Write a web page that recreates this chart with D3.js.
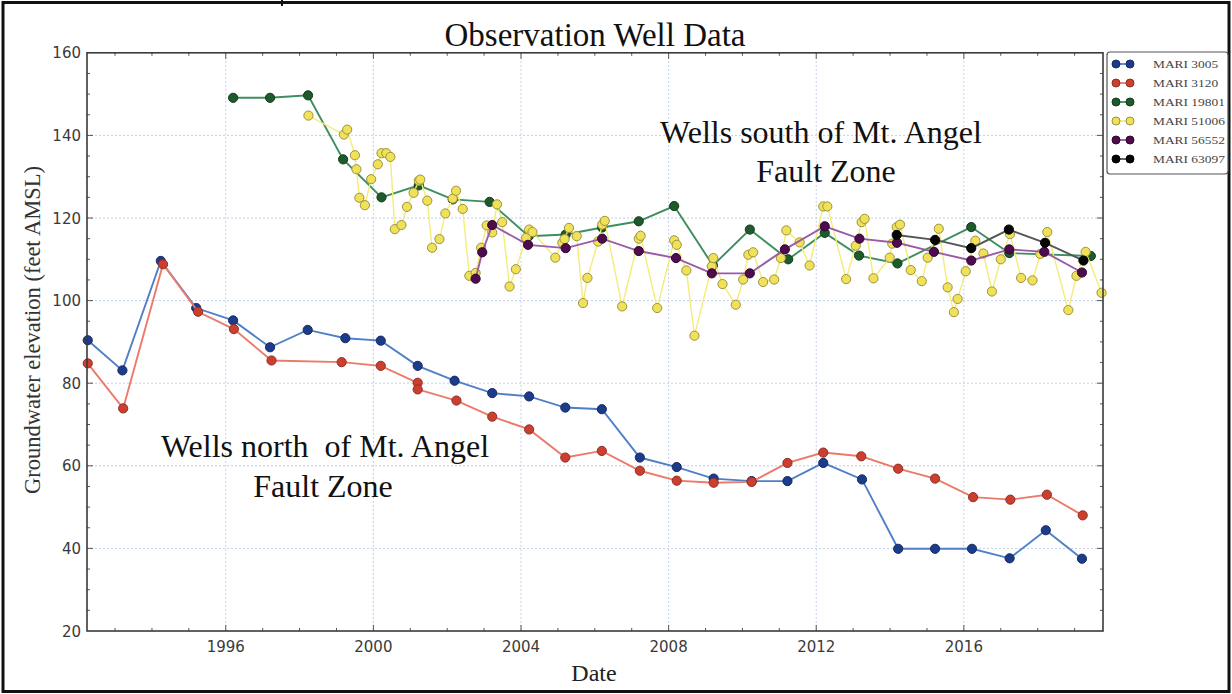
<!DOCTYPE html>
<html>
<head>
<meta charset="utf-8">
<script src="https://cdn.jsdelivr.net/npm/d3@7"></script>
<style>
  body { margin: 0; background: #fff; }
  svg { display: block; }
</style>
</head>
<body>
<div id="chart"></div>
<script>
// well records: [decimal year, groundwater elevation in feet AMSL]
const mari3005 = [
  [1992.26, 90.4], [1993.2, 83.1], [1994.24, 109.6], [1995.2, 98.2], [1996.2, 95.2],
  [1997.2, 88.7], [1998.22, 92.9], [1999.24, 90.9], [2000.2, 90.3], [2001.2, 84.2],
  [2002.2, 80.6], [2003.22, 77.6], [2004.22, 76.8], [2005.2, 74.1], [2006.19, 73.7],
  [2007.22, 62.0], [2008.22, 59.7], [2009.22, 56.9], [2010.25, 56.3], [2011.22, 56.3],
  [2012.19, 60.7], [2013.24, 56.7], [2014.22, 39.9], [2015.22, 39.9], [2016.22, 39.9],
  [2017.24, 37.6], [2018.22, 44.4], [2019.2, 37.5]
];
const mari3120 = [
  [1992.26, 84.8], [1993.22, 73.9], [1994.3, 108.8], [1995.25, 97.3], [1996.22, 93.1],
  [1997.24, 85.5], [1999.14, 85.1], [2000.2, 84.2], [2001.2, 80.1], [2001.2, 78.5],
  [2002.25, 75.8], [2003.22, 71.9], [2004.22, 68.8], [2005.2, 62.0], [2006.19, 63.6],
  [2007.22, 58.8], [2008.22, 56.4], [2009.22, 55.9], [2010.25, 56.1], [2011.22, 60.7],
  [2012.19, 63.2], [2013.22, 62.3], [2014.22, 59.3], [2015.22, 56.9], [2016.25, 52.4],
  [2017.26, 51.8], [2018.25, 53.0], [2019.22, 48.0]
];
const mari19801 = [
  [1996.2, 149.1], [1997.2, 149.1], [1998.23, 149.7], [1999.18, 134.2], [2000.22, 125.0],
  [2001.23, 127.9], [2002.15, 124.5], [2003.15, 123.9], [2004.21, 115.6], [2005.21, 116.0],
  [2006.2, 117.7], [2007.19, 119.2], [2008.15, 122.9], [2009.2, 108.5], [2010.2, 117.2],
  [2011.24, 110.0], [2012.23, 116.4], [2013.16, 110.9], [2014.2, 109.0], [2016.2, 117.8],
  [2017.23, 111.5], [2019.44, 110.8]
];
const mari51006 = [
  [1998.24, 144.8], [1999.2, 140.2], [1999.29, 141.4], [1999.5, 135.2], [1999.54, 131.8],
  [1999.62, 124.9], [1999.77, 123.1], [1999.94, 129.4], [2000.12, 133.0], [2000.22, 135.7],
  [2000.35, 135.7], [2000.46, 134.8], [2000.58, 117.3], [2000.76, 118.3], [2000.91, 122.7],
  [2001.09, 126.1], [2001.23, 129.0], [2001.27, 129.3], [2001.46, 124.2], [2001.59, 112.8],
  [2001.79, 114.9], [2001.95, 121.1], [2002.15, 124.7], [2002.24, 126.6], [2002.42, 122.2],
  [2002.6, 106.0], [2002.77, 106.7], [2002.92, 112.8], [2003.07, 118.2], [2003.22, 116.5],
  [2003.35, 123.3], [2003.49, 119.0], [2003.69, 103.4], [2003.86, 107.6], [2004.14, 115.2],
  [2004.22, 117.2], [2004.31, 116.6], [2004.93, 110.4], [2005.12, 114.0], [2005.18, 114.9],
  [2005.3, 117.6], [2005.51, 115.6], [2005.68, 99.4], [2005.8, 105.5], [2006.09, 114.3],
  [2006.2, 118.4], [2006.27, 119.3], [2006.74, 98.6], [2007.19, 115.0], [2007.24, 115.7],
  [2007.69, 98.2], [2008.15, 114.6], [2008.22, 113.5], [2008.48, 107.3], [2008.7, 91.5],
  [2009.17, 108.3], [2009.21, 110.3], [2009.46, 104.0], [2009.82, 99.0], [2010.02, 105.1],
  [2010.16, 111.1], [2010.29, 111.7], [2010.56, 104.5], [2010.86, 105.1], [2011.04, 110.3],
  [2011.19, 117.0], [2011.55, 114.1], [2011.82, 108.5], [2012.19, 122.8], [2012.3, 122.8],
  [2012.81, 105.2], [2013.07, 113.3], [2013.23, 119.0], [2013.31, 119.8], [2013.55, 105.4],
  [2013.99, 110.4], [2014.06, 113.8], [2014.18, 117.8], [2014.27, 118.4], [2014.56, 107.4],
  [2014.86, 104.7], [2015.02, 110.4], [2015.32, 117.4], [2015.56, 103.2], [2015.73, 97.2],
  [2015.83, 100.4], [2016.05, 107.1], [2016.31, 114.5], [2016.53, 111.4], [2016.76, 102.2],
  [2017.0, 110.0], [2017.25, 116.1], [2017.55, 105.5], [2017.86, 104.9], [2018.07, 111.3],
  [2018.26, 116.6], [2018.83, 97.7], [2019.05, 106.0], [2019.3, 111.8], [2019.73, 101.9]
];
const mari56552 = [
  [2002.77, 105.3], [2002.95, 111.7], [2003.22, 118.3], [2004.19, 113.5], [2005.21, 112.7],
  [2006.2, 115.0], [2007.19, 112.0], [2008.2, 110.3], [2009.17, 106.6], [2010.2, 106.6],
  [2011.15, 112.4], [2012.23, 118.0], [2013.17, 115.0], [2014.19, 114.0], [2015.19, 111.8],
  [2016.2, 109.7], [2017.23, 112.4], [2018.18, 111.8], [2019.2, 106.8]
];
const mari63097 = [
  [2014.18, 115.9], [2015.22, 114.7], [2016.2, 112.7], [2017.22, 117.2], [2018.2, 114.0],
  [2019.24, 109.7]
];

const seriesNames = ['MARI 3005', 'MARI 3120', 'MARI 19801', 'MARI 51006', 'MARI 56552', 'MARI 63097'];
const seriesData = [mari3005, mari3120, mari19801, mari51006, mari56552, mari63097];
const lineColors = ['#4f7fc8', '#ec7a6a', '#3e8e5e', '#f5ec78', '#9a5aa6', '#555555'];
const dotColors = ['#1b3b8b', '#cc3e2e', '#1d5a2c', '#f0e158', '#4e0c4e', '#050505'];
const dotEdges = ['#1a2a60', '#8e3026', '#163a1c', '#9a9440', '#2e062e', '#000000'];

const xTicks = [1996, 2000, 2004, 2008, 2012, 2016];
const yTicks = [20, 40, 60, 80, 100, 120, 140, 160];

const W = 1232, H = 694;
const plotL = 87, plotR = 1103, plotT = 52.8, plotB = 631;

const svg = d3.select('#chart').append('svg')
  .attr('width', W)
  .attr('height', H);

const x = d3.scaleLinear().domain([1992.24, 2019.77]).range([plotL, plotR]);
const y = d3.scaleLinear().domain([20, 160]).range([plotB, plotT]);

// outer frame
svg.append('rect')
  .attr('x', 3).attr('y', 2.5).attr('width', W - 6).attr('height', H - 5)
  .attr('fill', 'none').attr('stroke', '#111').attr('stroke-width', 3);
svg.append('line')
  .attr('x1', 282).attr('x2', 282).attr('y1', 0).attr('y2', 6)
  .attr('stroke', '#111').attr('stroke-width', 2);

// grid
const grid = svg.append('g');
grid.selectAll('.gx').data(xTicks).join('line')
  .attr('x1', d => x(d)).attr('x2', d => x(d))
  .attr('y1', plotT).attr('y2', plotB)
  .attr('stroke', '#bfd0ea').attr('stroke-width', 1).attr('stroke-dasharray', '2,2');
grid.selectAll('.gy').data(yTicks.slice(1, -1)).join('line')
  .attr('x1', plotL).attr('x2', plotR)
  .attr('y1', d => y(d)).attr('y2', d => y(d))
  .attr('stroke', '#bfd0ea').attr('stroke-width', 1).attr('stroke-dasharray', '2,2');

// inward ticks on all four sides
const ticks = svg.append('g').attr('stroke', '#555').attr('stroke-width', 1);
d3.range(1993, 2020).forEach(function(yr) {
  const len = xTicks.includes(yr) ? 6 : 3;
  ticks.append('line').attr('x1', x(yr)).attr('x2', x(yr)).attr('y1', plotB).attr('y2', plotB - len);
  ticks.append('line').attr('x1', x(yr)).attr('x2', x(yr)).attr('y1', plotT).attr('y2', plotT + len);
});
d3.range(25, 160, 5).forEach(function(v) {
  const len = v % 20 === 0 ? 6 : 3;
  ticks.append('line').attr('x1', plotL).attr('x2', plotL + len).attr('y1', y(v)).attr('y2', y(v));
  ticks.append('line').attr('x1', plotR).attr('x2', plotR - len).attr('y1', y(v)).attr('y2', y(v));
});

// series
const line = d3.line().x(d => x(d[0])).y(d => y(d[1]));
seriesData.forEach(function(data, i) {
  const g = svg.append('g');
  g.append('path')
    .attr('d', line(data))
    .attr('fill', 'none')
    .attr('stroke', lineColors[i])
    .attr('stroke-width', i === 3 ? 1.4 : 1.9);
  g.selectAll('circle').data(data).join('circle')
    .attr('cx', d => x(d[0]))
    .attr('cy', d => y(d[1]))
    .attr('r', 4.6)
    .attr('fill', dotColors[i])
    .attr('stroke', dotEdges[i])
    .attr('stroke-width', 1);
});

// spines
svg.append('rect')
  .attr('x', plotL).attr('y', plotT).attr('width', plotR - plotL).attr('height', plotB - plotT)
  .attr('fill', 'none').attr('stroke', '#3a3a3a').attr('stroke-width', 1.6);

// tick labels
svg.append('g').selectAll('text').data(xTicks).join('text')
  .attr('x', d => x(d)).attr('y', 652)
  .attr('text-anchor', 'middle')
  .attr('font-family', 'DejaVu Sans, sans-serif').attr('font-size', 15)
  .attr('fill', '#3a3a3a')
  .text(d => d);
svg.append('g').selectAll('text').data(yTicks).join('text')
  .attr('x', 81).attr('y', d => y(d) + 5.5)
  .attr('text-anchor', 'end')
  .attr('font-family', 'DejaVu Sans, sans-serif').attr('font-size', 15)
  .attr('fill', '#3a3a3a')
  .text(d => d);

const serif = 'Liberation Serif, Times New Roman, serif';

// titles
svg.append('text')
  .attr('x', 595).attr('y', 46)
  .attr('text-anchor', 'middle')
  .attr('font-family', serif).attr('font-size', 33).attr('fill', '#111')
  .text('Observation Well Data');
svg.append('text')
  .attr('x', 594).attr('y', 681)
  .attr('text-anchor', 'middle')
  .attr('font-family', serif).attr('font-size', 24).attr('fill', '#222')
  .text('Date');
svg.append('text')
  .attr('transform', 'translate(40,330) rotate(-90)')
  .attr('text-anchor', 'middle')
  .attr('font-family', serif).attr('font-size', 22.5).attr('fill', '#333')
  .text('Groundwater elevation (feet AMSL)');

// annotations
const notes = [
  { text: 'Wells south of Mt. Angel', x: 821, y: 143 },
  { text: 'Fault Zone', x: 826, y: 182 },
  { text: 'Wells north  of Mt. Angel', x: 325, y: 457 },
  { text: 'Fault Zone', x: 323, y: 497 }
];
svg.append('g').selectAll('text').data(notes).join('text')
  .attr('x', d => d.x).attr('y', d => d.y)
  .attr('text-anchor', 'middle')
  .attr('font-family', serif).attr('font-size', 32).attr('fill', '#111')
  .style('white-space', 'pre')
  .text(d => d.text);

// legend
const legend = svg.append('g');
legend.append('rect')
  .attr('x', 1107).attr('y', 52).attr('width', 121).attr('height', 122).attr('rx', 3)
  .attr('fill', '#fff').attr('stroke', '#555').attr('stroke-width', 1.2);
seriesNames.forEach(function(name, i) {
  const ly = 64 + i * 19;
  legend.append('line')
    .attr('x1', 1116).attr('x2', 1130).attr('y1', ly).attr('y2', ly)
    .attr('stroke', lineColors[i]).attr('stroke-width', 1.8);
  [1116, 1130].forEach(function(cx) {
    legend.append('circle')
      .attr('cx', cx).attr('cy', ly).attr('r', 4)
      .attr('fill', dotColors[i]).attr('stroke', dotEdges[i]);
  });
  legend.append('text')
    .attr('transform', 'translate(1153,' + (ly + 4) + ') scale(1.22,1)')
    .attr('font-family', serif).attr('font-size', 11).attr('fill', '#444')
    .text(name);
});
</script>
</body>
</html>
